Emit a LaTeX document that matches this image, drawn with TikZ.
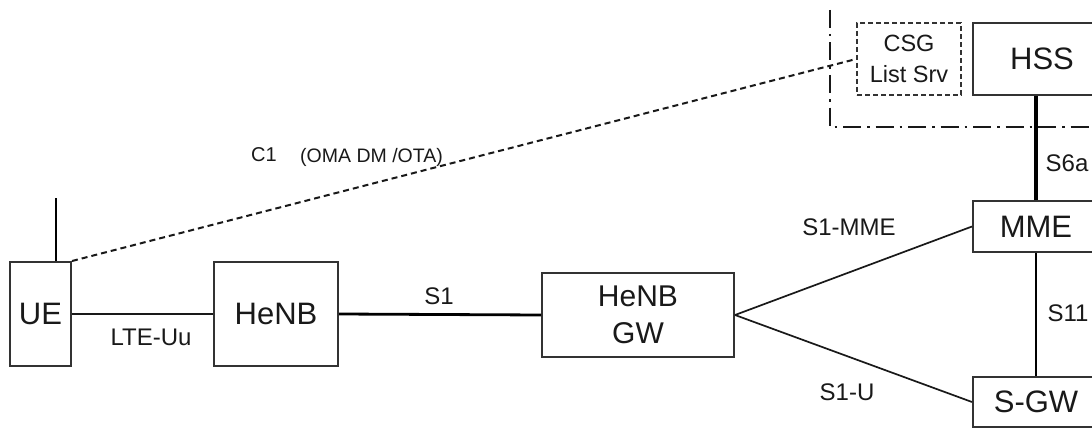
\documentclass[tikz,border=0pt]{standalone}
\usepackage{fontspec}
\setmainfont{Liberation Sans}
\begin{document}
\begin{tikzpicture}[x=1pt,y=-1pt,
  boxnode/.style={draw=black!80,line width=2pt,inner sep=0pt,font=\fontsize{31}{34}\selectfont,text=black!90},
  csgnode/.style={draw=black!80,line width=1.6pt,dash pattern=on 5pt off 3pt,inner sep=0pt,font=\fontsize{23.5}{31}\selectfont,align=center,text=black!90},
  lbl/.style={font=\fontsize{24}{26}\selectfont,text=black!90,inner sep=0pt},
  thinlink/.style={draw=black!90,line width=1.7pt},
  thicklink/.style={draw=black,line width=2.8pt},
  c1link/.style={draw=black!90,line width=2pt,dash pattern=on 6pt off 4pt},
  domainline/.style={draw=black!90,line width=2.6pt,dash pattern=on 18pt off 6pt on 2.5pt off 6pt}]
\clip (0,0) rectangle (1092,428);
\fill[white] (0,0) rectangle (1092,428);

\node[boxnode,minimum width=61pt,minimum height=104pt] (ue) at (40.5,314) {UE};
\node[boxnode,minimum width=124pt,minimum height=104pt] (henb) at (276,314) {HeNB};
\node[boxnode,minimum width=192pt,minimum height=84pt,align=center,font=\fontsize{30}{37}\selectfont] (gw) at (638,315) {HeNB\\GW};
\node[boxnode,minimum width=126pt,minimum height=51pt] (mme) at (1036,226.5) {MME};
\node[boxnode,minimum width=126pt,minimum height=50pt] (sgw) at (1036,402) {S-GW};
\node[boxnode,minimum width=138pt,minimum height=72pt] (hss) at (1042,59) {HSS};
\node[csgnode,minimum width=104pt,minimum height=72pt] (csg) at (909,59) {CSG\\List Srv};

\coordinate (ant) at (56,198);
\draw[thicklink] (ant) -- (ant |- ue.north);

\draw[thinlink] (ue.east) -- (henb.west);
\draw[thicklink] (henb.east) -- (gw.west);
\draw[thinlink] (gw.east) -- (mme.west);
\draw[thinlink] (gw.east) -- (sgw.west);
\draw[thinlink,draw=black,line width=2pt] (mme.south) -- (sgw.north);
\draw[thicklink,line width=3.4pt] (mme.north) -- (mme.north |- hss.south);
\draw[c1link] (ue.north east) -- (csg.west);

\coordinate (dtop) at (830,10);
\coordinate (dcorner) at (830,127);
\coordinate (dend) at (1095,127);
\draw[domainline] (dtop) -- (dcorner) -- (dend);

\node[lbl] (lte) at (151,337) {LTE-Uu};
\node[lbl] (s1) at (439,296) {S1};
\node[lbl] (s1mme) at (849,227) {S1-MME};
\node[lbl] (s1u) at (847,392) {S1-U};
\node[lbl] (s11) at (1068,313) {S11};
\node[lbl] (s6a) at (1067,163) {S6a};
\node[lbl,font=\fontsize{20}{22}\selectfont] (c1) at (264,155) {C1};
\node[lbl,font=\fontsize{19.5}{21}\selectfont] (oma) at (371.5,157) {(OMA DM /OTA)};
\end{tikzpicture}
\end{document}
